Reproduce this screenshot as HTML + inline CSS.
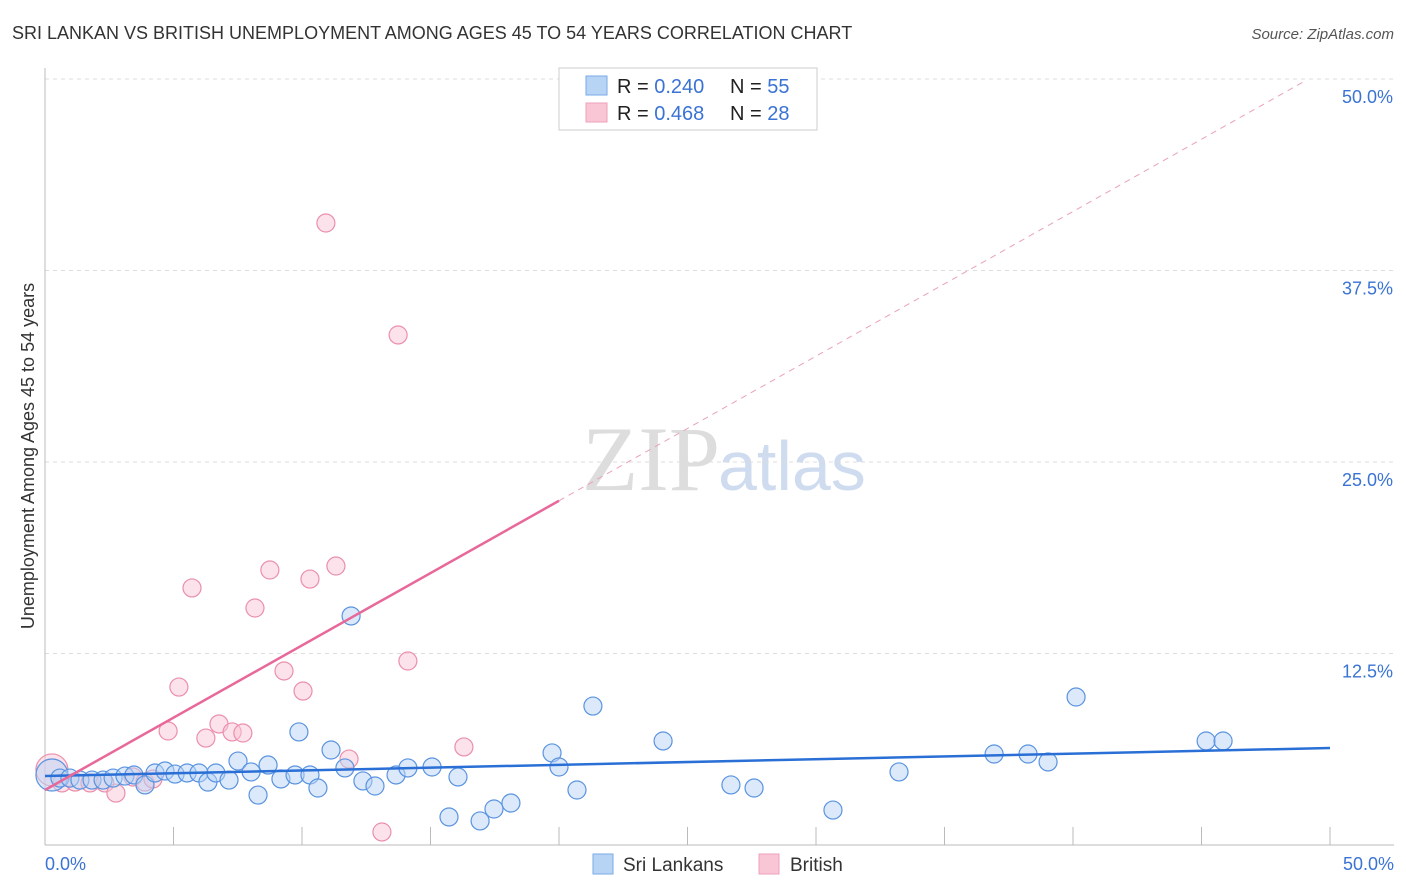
<!DOCTYPE html>
<html><head><meta charset="utf-8"><style>
body{margin:0;background:#fff;font-family:"Liberation Sans",sans-serif}
#c{position:relative;width:1406px;height:892px;overflow:hidden}
</style></head><body>
<div id="c">
<svg id="s" width="1406" height="892" xmlns="http://www.w3.org/2000/svg">
<text x="12" y="39" font-size="18" fill="#333">SRI LANKAN VS BRITISH UNEMPLOYMENT AMONG AGES 45 TO 54 YEARS CORRELATION CHART</text>
<text x="1394" y="39" font-size="15" fill="#555" font-style="italic" text-anchor="end">Source: ZipAtlas.com</text>
<text x="34" y="456" font-size="18" fill="#333" text-anchor="middle" transform="rotate(-90 34 456)">Unemployment Among Ages 45 to 54 years</text>
<text x="720" y="490" font-size="92" fill="#ddd" font-family="Liberation Serif,serif" text-anchor="end">ZIP</text>
<text x="718" y="490" font-size="70" fill="#cfdcf0">atlas</text>
<g id="grid"></g><g id="axes"></g><g id="pts"></g><g id="trend"></g>
<g>
<rect x="559" y="68" width="258" height="62" fill="#fff" stroke="#ccc"/>
<rect x="586" y="76" width="21" height="19" fill="#b8d4f5" stroke="#7aaae8"/>
<rect x="586" y="103" width="21" height="19" fill="#f9c6d5" stroke="#eea0b8"/>
<text x="617" y="93" font-size="20" fill="#222">R = <tspan fill="#3a73d4">0.240</tspan><tspan x="730">N = </tspan><tspan fill="#3a73d4">55</tspan></text>
<text x="617" y="120" font-size="20" fill="#222">R = <tspan fill="#3a73d4">0.468</tspan><tspan x="730">N = </tspan><tspan fill="#3a73d4">28</tspan></text>
</g>
<g>
<rect x="593" y="854" width="20" height="20" fill="#b8d4f5" stroke="#7aaae8"/>
<text x="623" y="871" font-size="19" fill="#333">Sri Lankans</text>
<rect x="759" y="854" width="20" height="20" fill="#f9c6d5" stroke="#eea0b8"/>
<text x="790" y="871" font-size="19" fill="#333">British</text>
</g>
</svg>
</div>
<script>
const yTicks=[12.5,25,37.5,50];
const yTickLabels=["12.5%","25.0%","37.5%","50.0%"];
const xTickLabels=["0.0%","50.0%"];
const blueX=[0.27,0.58,0.97,1.36,1.83,2.26,2.65,3.11,3.46,3.89,4.28,4.67,5.06,5.53,5.99,6.34,6.65,7.16,7.51,8.02,8.29,8.68,9.18,9.73,9.88,10.31,10.62,11.13,11.67,11.91,12.37,12.84,13.66,14.12,15.06,15.72,16.07,16.93,17.47,18.13,19.73,20.0,20.7,21.32,24.05,26.69,27.59,30.66,33.23,36.93,38.25,39.03,40.12,45.18,45.84];
const blueY=[4.57,4.37,4.37,4.24,4.24,4.24,4.37,4.5,4.57,3.92,4.7,4.83,4.63,4.7,4.7,4.11,4.7,4.24,5.48,4.77,3.26,5.22,4.31,4.57,7.38,4.57,3.72,6.2,5.03,14.95,4.18,3.85,4.57,5.03,5.09,1.83,4.44,1.57,2.35,2.74,6.01,5.09,3.59,9.07,6.79,3.92,3.72,2.28,4.77,5.94,5.94,5.42,9.66,6.79,6.79];
const pinkX=[0.27,0.66,1.17,1.75,2.33,2.76,3.42,3.89,4.2,4.79,5.21,5.72,6.26,6.77,7.28,7.7,8.17,8.75,9.3,10.04,10.31,10.93,11.32,11.83,13.11,13.74,14.12,16.3];
const pinkY=[4.9,4.05,4.11,4.05,4.05,3.39,4.44,4.11,4.31,7.44,10.31,16.78,6.98,7.9,7.38,7.31,15.47,17.95,11.36,10.05,17.36,40.6,18.21,5.61,0.85,33.29,12.01,6.4];
const blueTrend=[4.5,6.33];
const pinkTrend=[3.59,0.944];
const NS="http://www.w3.org/2000/svg";
const X=v=>45+v*25.7, Y=v=>845-v*15.32;
function mk(p,t,a){const e=document.createElementNS(NS,t);for(const k in a)e.setAttribute(k,a[k]);document.getElementById(p).appendChild(e);return e;}
yTicks.forEach((t,i)=>{
 const g=mk('grid','line',{x1:45,x2:1394,y1:Y(t),y2:Y(t),stroke:'#ddd','stroke-dasharray':'4,4'});
 
 
 const l=mk('grid','text',{x:1393,y:Y(t)+24,'font-size':18,fill:'#3a73d4','text-anchor':'end'});l.textContent=yTickLabels[i];
 
 
});
let a=mk('axes','line',{x1:45,x2:45,y1:68,y2:845,stroke:'#bbb'});


a=mk('axes','line',{x1:45,x2:1394,y1:845,y2:845,stroke:'#bbb'});


for(let i=1;i<=10;i++){const t=mk('axes','line',{x1:X(i*5),x2:X(i*5),y1:827,y2:845,stroke:'#bbb'});
 
 }
[[0,'start',45],[50,'end',1394]].forEach((d,i)=>{const t=mk('axes','text',{x:d[2],y:870,'font-size':18,fill:'#3a73d4','text-anchor':d[1]});t.textContent=xTickLabels[i];
 
 });
function pts(xs,ys,f,s,n){xs.forEach((x,i)=>{const c=mk('pts','circle',{cx:X(x),cy:Y(ys[i]),r:i==0?16:9,fill:f,'fill-opacity':0.5,stroke:s,'stroke-width':1.2});
 
 });}
pts(pinkX,pinkY,'#f9c6d5','#eb8fab','point-british');
pts(blueX,blueY,'#b8d4f5','#5a93e0','point-sri-lankan');
let t=mk('trend','line',{x1:X(0),y1:Y(blueTrend[0]),x2:X(50),y2:Y(blueTrend[1]),stroke:'#2a6fd6','stroke-width':2.5});


t=mk('trend','line',{x1:X(0),y1:Y(pinkTrend[0]),x2:X(20),y2:Y(pinkTrend[0]+20*pinkTrend[1]),stroke:'#e8689a','stroke-width':2.5});


t=mk('trend','line',{x1:X(20),y1:Y(pinkTrend[0]+20*pinkTrend[1]),x2:X(49),y2:Y(pinkTrend[0]+49*pinkTrend[1]),stroke:'#eaa0bb','stroke-width':1,'stroke-dasharray':'6,5'});


</script>
</body></html>
